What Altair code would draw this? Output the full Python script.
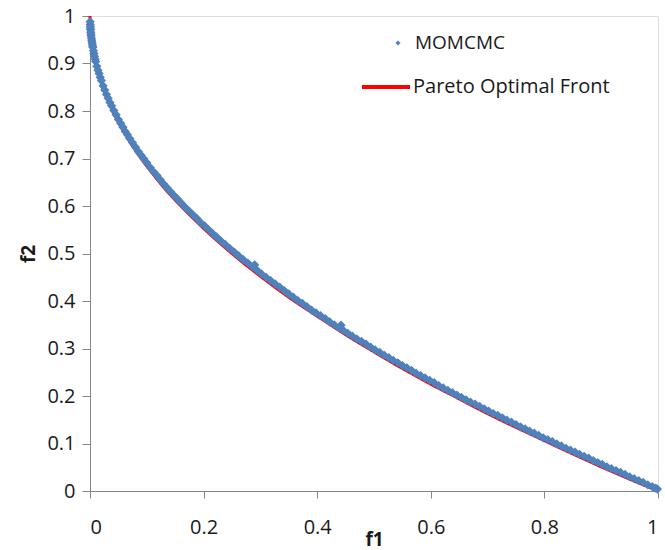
import altair as alt
import pandas as pd

# Pareto optimal front, sampled along the curve
front_f1 = [0.0, 0.0002, 0.0005, 0.001, 0.002, 0.003, 0.005, 0.007, 0.010, 0.015, 0.020,
            0.030, 0.040, 0.060, 0.080, 0.100, 0.130, 0.160, 0.200, 0.250, 0.300, 0.350,
            0.400, 0.450, 0.500, 0.550, 0.600, 0.650, 0.700, 0.750, 0.800, 0.850, 0.900,
            0.950, 1.000]
front_f2 = [1.000, 0.986, 0.978, 0.968, 0.955, 0.945, 0.929, 0.916, 0.900, 0.878, 0.859,
            0.827, 0.800, 0.755, 0.717, 0.684, 0.639, 0.600, 0.553, 0.500, 0.452, 0.408,
            0.368, 0.329, 0.293, 0.258, 0.225, 0.194, 0.163, 0.134, 0.106, 0.078, 0.051,
            0.025, 0.000]

# MOMCMC samples
mc_f1 = [0.0002, 0.0004, 0.0006, 0.0008, 0.001, 0.0013, 0.0016, 0.002, 0.0025, 0.003,
         0.0035, 0.004, 0.0045, 0.005, 0.006, 0.007, 0.008, 0.009, 0.010, 0.012,
         0.014, 0.016, 0.018, 0.020, 0.023, 0.026, 0.029, 0.032, 0.035, 0.038,
         0.042, 0.046, 0.050, 0.054, 0.058, 0.062, 0.066, 0.070, 0.075, 0.080,
         0.085, 0.090, 0.095, 0.100, 0.106, 0.112, 0.118, 0.124, 0.130, 0.136,
         0.142, 0.148, 0.154, 0.160, 0.167, 0.174, 0.181, 0.188, 0.195, 0.202,
         0.209, 0.216, 0.223, 0.230, 0.238, 0.246, 0.254, 0.262, 0.270, 0.278,
         0.286, 0.290, 0.294, 0.302, 0.310, 0.318, 0.326, 0.334, 0.342, 0.350,
         0.358, 0.366, 0.374, 0.382, 0.390, 0.398, 0.406, 0.414, 0.422, 0.430,
         0.438, 0.442, 0.446, 0.454, 0.462, 0.470, 0.478, 0.486, 0.494, 0.502,
         0.510, 0.518, 0.526, 0.534, 0.542, 0.550, 0.558, 0.566, 0.574, 0.582,
         0.590, 0.598, 0.606, 0.614, 0.622, 0.630, 0.638, 0.646, 0.654, 0.662,
         0.670, 0.678, 0.686, 0.694, 0.702, 0.710, 0.718, 0.726, 0.734, 0.742,
         0.750, 0.758, 0.766, 0.774, 0.782, 0.790, 0.798, 0.806, 0.814, 0.822,
         0.830, 0.838, 0.846, 0.854, 0.862, 0.870, 0.878, 0.886, 0.894, 0.902,
         0.910, 0.918, 0.926, 0.934, 0.942, 0.950, 0.958, 0.966, 0.974, 0.982,
         0.990, 0.996, 0.999]
mc_f2 = [0.988, 0.982, 0.978, 0.974, 0.971, 0.966, 0.962, 0.958, 0.953, 0.949,
         0.945, 0.941, 0.937, 0.934, 0.927, 0.921, 0.915, 0.909, 0.904, 0.894,
         0.886, 0.879, 0.871, 0.864, 0.853, 0.844, 0.835, 0.827, 0.818, 0.811,
         0.801, 0.792, 0.782, 0.774, 0.766, 0.757, 0.750, 0.742, 0.733, 0.724,
         0.715, 0.707, 0.699, 0.691, 0.681, 0.672, 0.664, 0.655, 0.646, 0.638,
         0.630, 0.622, 0.615, 0.607, 0.598, 0.590, 0.582, 0.574, 0.565, 0.558,
         0.550, 0.542, 0.535, 0.527, 0.519, 0.511, 0.503, 0.495, 0.487, 0.480,
         0.472, 0.476, 0.465, 0.457, 0.450, 0.443, 0.436, 0.429, 0.422, 0.415,
         0.408, 0.401, 0.395, 0.388, 0.381, 0.375, 0.369, 0.363, 0.356, 0.350,
         0.344, 0.349, 0.338, 0.332, 0.326, 0.320, 0.315, 0.309, 0.303, 0.297,
         0.292, 0.286, 0.281, 0.275, 0.270, 0.264, 0.259, 0.254, 0.248, 0.243,
         0.238, 0.233, 0.228, 0.222, 0.217, 0.212, 0.207, 0.202, 0.197, 0.192,
         0.187, 0.183, 0.178, 0.173, 0.168, 0.163, 0.159, 0.154, 0.149, 0.145,
         0.140, 0.135, 0.131, 0.126, 0.122, 0.117, 0.112, 0.108, 0.104, 0.099,
         0.095, 0.090, 0.086, 0.082, 0.077, 0.073, 0.069, 0.064, 0.060, 0.056,
         0.051, 0.047, 0.043, 0.039, 0.035, 0.030, 0.026, 0.022, 0.018, 0.013,
         0.009, 0.006, 0.004]

ticks = [0, 0.1, 0.2, 0.3, 0.4, 0.5, 0.6, 0.7, 0.8, 0.9, 1]
x_ticks = [0, 0.2, 0.4, 0.6, 0.8, 1]

front = pd.DataFrame({"f1": front_f1, "f2": front_f2})
mc = pd.DataFrame({"f1": mc_f1, "f2": mc_f2})

FONT = "Open Sans"
GRAY = "#868686"
BLUE = "#4F81BD"
RED = "#FF0000"
TXT = "#1a1a1a"

x_scale = alt.Scale(domain=[0, 1], nice=False, zero=False)
y_scale = alt.Scale(domain=[0, 1], nice=False, zero=False)

x_axis = alt.Axis(values=x_ticks, title="f1", format="~g", grid=False,
                  domainColor=GRAY, tickColor=GRAY, tickSize=7,
                  labelPadding=19, labelFontSize=20, labelFont=FONT, labelColor=TXT,
                  titleFont=FONT, titleFontSize=19, titleFontWeight="bold",
                  titleY=48, titleBaseline="middle", titleColor=TXT)
y_axis = alt.Axis(values=ticks, title="f2", format="~g", grid=False,
                  domainColor=GRAY, tickColor=GRAY, tickSize=8,
                  labelPadding=7, labelFontSize=20, labelFont=FONT, labelColor=TXT,
                  titleFont=FONT, titleFontSize=19, titleFontWeight="bold",
                  titleX=-62, titleAngle=-90, titleBaseline="middle", titleColor=TXT)

line = alt.Chart(front).mark_line(color=RED, strokeWidth=3, interpolate="monotone").encode(
    x=alt.X("f1:Q", scale=x_scale, axis=x_axis),
    y=alt.Y("f2:Q", scale=y_scale, axis=y_axis),
    order="f1:Q",
)

points = alt.Chart(mc).mark_point(shape="diamond", filled=True, color=BLUE,
                                  size=85, opacity=1).encode(
    x=alt.X("f1:Q", scale=x_scale),
    y=alt.Y("f2:Q", scale=y_scale),
)

# legend entries
leg_pt = alt.Chart(pd.DataFrame({"k": [0]})).mark_point(
    shape="diamond", filled=True, color=BLUE, size=25, opacity=1
).encode(x=alt.value(308), y=alt.value(27))
leg_txt1 = alt.Chart(pd.DataFrame({"k": [0]})).mark_text(
    text="MOMCMC", align="left", baseline="middle", font=FONT, fontSize=19, color=TXT
).encode(x=alt.value(325), y=alt.value(27))
leg_line = alt.Chart(pd.DataFrame({"k": [0]})).mark_rule(
    color=RED, strokeWidth=4
).encode(x=alt.value(272), x2=alt.value(320), y=alt.value(71))
leg_txt2 = alt.Chart(pd.DataFrame({"k": [0]})).mark_text(
    text="Pareto Optimal Front", align="left", baseline="middle", font=FONT, fontSize=20,
    color=TXT
).encode(x=alt.value(323), y=alt.value(71))

chart = alt.layer(line, points, leg_pt, leg_txt1, leg_line, leg_txt2).properties(
    width=568, height=475,
    autosize=alt.AutoSizeParams(type="none"),
    padding={"left": 90, "top": 16, "right": 7, "bottom": 59},
).configure_view(stroke=GRAY, strokeWidth=1).configure(background="white")

chart.save("out.html", embed_options={"renderer": "svg", "actions": False})
